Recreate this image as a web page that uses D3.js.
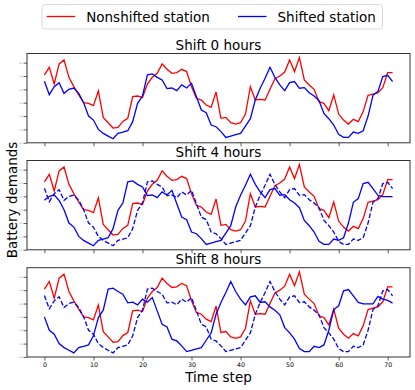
<!DOCTYPE html>
<html lang="en">
<head>
    <meta charset="UTF-8">
    <title>Battery demands</title>

    <script src="https://d3js.org/d3.v7.min.js"></script>

    <style>
        body {
            margin: 0;
            background: #ffffff;
        }

        svg {
            display: block;
            font-family: "DejaVu Sans", sans-serif;
        }
    </style>

    <script>

        // demand of the station that is never shifted (one value per time step)
        const NONSHIFTED = [
            5.08, 5.65, 4.40, 5.90, 6.20, 4.90, 4.20, 3.58, 3.00, 2.95,
            2.78, 3.88, 1.90, 1.50, 1.10, 1.15, 1.60, 1.83, 3.45, 3.50,
            3.40, 4.40, 4.90, 5.20, 5.90, 5.50, 5.20, 5.25, 5.50, 5.33,
            4.20, 3.33, 3.20, 2.83, 2.65, 3.80, 1.83, 1.90, 1.50, 1.40,
            1.50, 2.15, 4.20, 3.20, 3.25, 3.20, 4.00, 4.80, 5.00, 5.30,
            6.20, 5.33, 6.38, 4.70, 4.33, 4.00, 3.08, 2.95, 2.40, 3.58,
            2.15, 1.70, 1.40, 1.75, 1.58, 2.33, 3.55, 3.65, 3.75, 4.13,
            5.25, 5.25
        ];

        // demand of the shifted station, 8 extra steps so it can be moved forward
        const SHIFTED = [
            4.60, 3.60, 4.20, 4.50, 3.70, 4.00, 4.10, 3.70, 3.00, 2.00,
            1.70, 1.00, 0.70, 0.50, 0.30, 0.70, 0.80, 0.90, 1.58, 2.95,
            3.50, 5.08, 5.15, 4.90, 4.70, 4.05, 4.10, 3.90, 4.33, 4.10,
            4.45, 3.45, 2.45, 2.25, 1.33, 1.20, 0.83, 0.40, 0.50, 0.60,
            0.70, 1.25, 1.80, 3.20, 4.08, 4.83, 5.65, 4.90, 4.33, 3.90,
            4.50, 4.58, 4.08, 4.13, 3.75, 3.50, 3.15, 2.20, 1.80, 1.33,
            0.63, 0.40, 0.40, 0.80, 0.70, 0.90, 2.00, 3.55, 3.83, 4.95,
            5.05, 4.58,
            4.08, 3.98, 3.98, 3.98, 4.53, 4.33, 4.23, 4.03
        ];

        const SHIFTS = [0, 4, 8];
        const X_TICKS = [0, 10, 20, 30, 40, 50, 60, 70];
        const Y_TICKS = [0, 1, 2, 3, 4, 5, 6];
        const LEGEND_LABELS = ["Nonshifted station", "Shifted station"];

        document.addEventListener("DOMContentLoaded", () => makeGraph());

        function makeGraph() {

            const width = 415;
            const height = 390;
            const left = 27;
            const right = 410;
            const panelTops = [53.5, 160.5, 267.7];
            const panelHeight = 89.3;

            const red = "#ff0000";
            const blue = "#0000ff";
            const spine = "#333333";

            const svg = d3.select("svg")
                .attr("width", width)
                .attr("height", height);

            const n = NONSHIFTED.length;
            const steps = NONSHIFTED.map((d, i) => i);

            // matplotlib style 5% margins around the data
            const xPad = (n - 1) * 0.05;
            const x = d3.scaleLinear().domain([-xPad, n - 1 + xPad]).range([left, right]);

            const allValues = NONSHIFTED.concat(SHIFTED);
            const yMin = d3.min(allValues);
            const yMax = d3.max(allValues);
            const yPad = (yMax - yMin) * 0.05;

            SHIFTS.forEach(function(shift, p) {

                const top = panelTops[p];
                const y = d3.scaleLinear()
                    .domain([yMin - yPad, yMax + yPad])
                    .range([top + panelHeight, top]);

                const g = svg.append("g");

                const line = d3.line()
                    .x(function(d) { return x(d.t) })
                    .y(function(d) { return y(d.v) });

                const redData = steps.map(t => ({t: t, v: NONSHIFTED[t]}));
                const blueData = steps.map(t => ({t: t, v: SHIFTED[t + shift]}));
                const baseData = steps.map(t => ({t: t, v: SHIFTED[t]}));

                g.append("path")
                    .datum(redData)
                    .attr("fill", "none")
                    .attr("stroke", red)
                    .attr("stroke-width", 1.3)
                    .attr("d", line);

                g.append("path")
                    .datum(blueData)
                    .attr("fill", "none")
                    .attr("stroke", blue)
                    .attr("stroke-width", 1.3)
                    .attr("d", line);

                if (shift > 0) {
                    g.append("path")
                        .datum(baseData)
                        .attr("fill", "none")
                        .attr("stroke", blue)
                        .attr("stroke-width", 1.3)
                        .attr("stroke-dasharray", "4.8,2.1")
                        .attr("d", line);
                }

                // y axis, tiny labels
                const yAxis = g.append("g")
                    .attr("transform", "translate(" + left + ",0)")
                    .call(d3.axisLeft(y).tickValues(Y_TICKS).tickSize(3.5).tickPadding(1));
                yAxis.select(".domain").remove();
                yAxis.selectAll(".tick line").attr("stroke", spine).attr("stroke-width", 0.8);
                yAxis.selectAll(".tick text")
                    .attr("font-size", 2.2)
                    .attr("fill", "#888888")
                    .attr("font-family", "DejaVu Sans");

                // x axis, labels only on the last panel
                const xAxis = g.append("g")
                    .attr("transform", "translate(0," + (top + panelHeight) + ")")
                    .call(d3.axisBottom(x).tickValues(X_TICKS).tickSize(3.5).tickPadding(2));
                xAxis.select(".domain").remove();
                xAxis.selectAll(".tick line").attr("stroke", spine).attr("stroke-width", 0.8);
                xAxis.selectAll(".tick text")
                    .attr("font-size", 6.3)
                    .attr("fill", "#000000")
                    .attr("font-family", "DejaVu Sans");
                if (p < SHIFTS.length - 1) {
                    xAxis.selectAll(".tick text").remove();
                }

                // frame
                g.append("rect")
                    .attr("x", left)
                    .attr("y", top)
                    .attr("width", right - left)
                    .attr("height", panelHeight)
                    .attr("fill", "none")
                    .attr("stroke", spine)
                    .attr("stroke-width", 1);

                g.append("text")
                    .attr("x", (left + right) / 2)
                    .attr("y", top - 4)
                    .attr("text-anchor", "middle")
                    .attr("font-size", 13.5)
                    .text("Shift " + shift + " hours");
            });

            svg.append("text")
                .attr("x", (left + right) / 2)
                .attr("y", 381.5)
                .attr("text-anchor", "middle")
                .attr("font-size", 13.5)
                .text("Time step");

            svg.append("text")
                .attr("transform", "translate(17,200) rotate(-90)")
                .attr("text-anchor", "middle")
                .attr("font-size", 13.5)
                .text("Battery demands");

            // legend
            const legend = svg.append("g");
            legend.append("rect")
                .attr("x", 42)
                .attr("y", 4.5)
                .attr("width", 340.5)
                .attr("height", 24.5)
                .attr("rx", 3)
                .attr("fill", "#ffffff")
                .attr("stroke", "#d9d9d9")
                .attr("stroke-width", 1);

            const entries = [
                {label: LEGEND_LABELS[0], color: red, x0: 46.7},
                {label: LEGEND_LABELS[1], color: blue, x0: 238}
            ];

            entries.forEach(function(e) {
                legend.append("line")
                    .attr("x1", e.x0)
                    .attr("x2", e.x0 + 28.5)
                    .attr("y1", 16.5)
                    .attr("y2", 16.5)
                    .attr("stroke", e.color)
                    .attr("stroke-width", 1.3);
                legend.append("text")
                    .attr("x", e.x0 + 39.5)
                    .attr("y", 21.5)
                    .attr("font-size", 13.5)
                    .text(e.label);
            });
        }

    </script>

</head>
<body>
    <svg id="graph"></svg>
</body>
</html>
